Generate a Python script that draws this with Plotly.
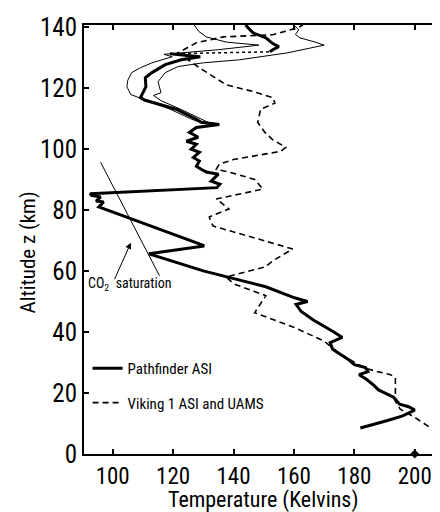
import plotly.graph_objects as go

# ---- Pathfinder ASI (center profile), lower part up to ~131 km ----
pf_t = [182.0, 186.0, 191.0, 196.0, 200.0, 198.0, 195.0, 193.0, 188.0, 186.5, 184.0, 181.6,
        184.5, 183.7, 180.0, 178.0, 175.5, 172.8, 172.0, 176.0, 173.5, 170.0, 166.3, 162.4,
        160.7, 164.5, 160.2, 150.7, 137.6, 130.0, 112.0, 130.3, 128.7, 95.4, 97.0, 94.5,
        96.0, 93.0, 92.5, 134.5, 135.5, 132.6, 135.0, 131.0, 129.3, 127.7, 128.7, 126.7,
        128.7, 126.0, 127.7, 124.4, 128.3, 125.4, 127.7, 135.3, 129.3, 127.7, 121.0, 115.5,
        110.5, 109.2, 111.0, 110.8, 113.0, 117.4, 122.7, 129.0, 119.0]
pf_z = [8.5, 9.5, 11.0, 12.5, 14.4, 15.5, 16.3, 18.6, 21.0, 22.5, 24.5, 26.0,
        27.0, 28.3, 29.3, 31.0, 32.6, 34.3, 36.5, 38.2, 39.8, 41.8, 44.0, 46.7,
        49.0, 50.0, 51.2, 54.8, 58.0, 60.0, 65.6, 68.2, 68.9, 81.0, 82.6, 82.9,
        84.2, 84.8, 85.3, 87.3, 88.4, 89.4, 91.7, 92.4, 93.3, 94.3, 96.0, 97.2,
        98.9, 99.9, 101.5, 102.5, 103.8, 105.4, 107.0, 108.0, 108.7, 109.7, 113.0, 114.6,
        116.0, 116.8, 120.4, 123.3, 125.0, 127.6, 129.2, 130.2, 131.2]

# ---- Pathfinder ASI (center profile), top part ----
pf_top_t = [152.0, 153.0, 155.0, 153.0, 150.7, 146.5, 145.5, 144.0]
pf_top_z = [131.8, 132.5, 133.5, 134.5, 136.4, 138.0, 139.0, 140.6]

# ---- Pathfinder uncertainty envelopes (upper atmosphere) ----
pf_cold_t = [129.5, 126.0, 119.0, 112.0, 106.0, 104.7, 105.0, 106.3, 109.2, 113.0, 119.7,
             117.0, 135.0, 148.4, 137.6, 131.0, 128.5, 127.0]
pf_cold_z = [108.5, 109.8, 113.0, 115.5, 117.8, 120.4, 122.5, 125.0, 126.6, 128.2, 130.2,
             131.0, 132.5, 134.0, 135.0, 136.7, 138.5, 140.6]
pf_warm_t = [132.0, 129.0, 122.5, 116.0, 113.5, 116.0, 115.5, 115.0, 117.4, 121.7, 130.0,
             142.0, 158.0, 170.0, 167.0, 162.0, 160.5, 161.6, 160.0]
pf_warm_z = [108.5, 110.0, 113.0, 115.8, 117.5, 118.4, 120.5, 122.0, 125.0, 127.0, 128.2,
             129.2, 131.5, 134.0, 135.0, 136.4, 137.5, 139.0, 140.6]

# ---- Viking 1 ASI and UAMS ----
vk_t = [207.4, 200.0, 195.2, 193.6, 193.6, 192.0, 187.7, 184.0, 181.0, 175.0, 170.0, 160.3,
        147.0, 149.0, 150.7, 140.0, 137.6, 150.7, 153.0, 159.6, 150.7, 133.3, 132.5, 132.0,
        138.5, 134.3, 149.7, 147.0, 138.5, 134.3, 135.3, 140.0, 155.7, 157.3, 153.0, 150.4,
        148.0, 149.0, 153.7, 153.0, 146.5, 137.6, 133.3, 128.7, 121.7, 127.7, 136.6, 153.0,
        161.3, 163.0]
vk_z = [7.2, 12.0, 14.7, 17.3, 25.0, 26.0, 27.0, 28.0, 29.5, 33.0, 37.0, 41.4,
        46.3, 49.3, 51.9, 55.8, 58.0, 61.4, 63.3, 67.2, 69.8, 74.7, 76.0, 77.7,
        80.3, 83.6, 86.8, 90.0, 92.4, 93.3, 95.0, 96.5, 99.2, 100.5, 103.0, 105.4,
        108.7, 113.0, 115.0, 116.8, 118.8, 121.0, 123.7, 126.6, 131.5, 134.8, 136.7, 137.4,
        139.7, 140.6]

# ---- CO2 saturation curve ----
co2_t = [96.0, 115.5]
co2_z = [95.6, 58.4]

# ---- surface marker ----
sfc_t = [200.0]
sfc_z = [0.0]

x_ticks = [100, 120, 140, 160, 180, 200]
y_ticks = [0, 20, 40, 60, 80, 100, 120, 140]

FONT = "Roboto Condensed, Liberation Sans Narrow, Roboto, sans-serif"

fig = go.Figure()

fig.add_trace(go.Scatter(x=pf_cold_t, y=pf_cold_z, mode="lines",
                         line=dict(color="black", width=1), showlegend=False, hoverinfo="skip"))
fig.add_trace(go.Scatter(x=pf_warm_t, y=pf_warm_z, mode="lines",
                         line=dict(color="black", width=1), showlegend=False, hoverinfo="skip"))
fig.add_trace(go.Scatter(x=pf_t, y=pf_z, mode="lines", name="Pathfinder ASI",
                         legendgroup="pf",
                         line=dict(color="black", width=3)))
fig.add_trace(go.Scatter(x=[pf_t[-1], pf_top_t[0]], y=[pf_z[-1], pf_top_z[0]], mode="lines",
                         line=dict(color="black", width=1.5, dash="dot"),
                         showlegend=False, hoverinfo="skip"))
fig.add_trace(go.Scatter(x=pf_top_t, y=pf_top_z, mode="lines", legendgroup="pf",
                         line=dict(color="black", width=3), showlegend=False))
fig.add_trace(go.Scatter(x=vk_t, y=vk_z, mode="lines", name="Viking 1 ASI and UAMS",
                         legendgroup="vk",
                         line=dict(color="black", width=1.6, dash="6px,4px")))
fig.add_trace(go.Scatter(x=co2_t, y=co2_z, mode="lines",
                         line=dict(color="black", width=1), showlegend=False))
fig.add_trace(go.Scatter(x=sfc_t, y=sfc_z, mode="markers",
                         marker=dict(color="black", size=7, symbol="diamond"),
                         showlegend=False, cliponaxis=False))

fig.add_annotation(x=106.0, y=69.2, ax=100.4, ay=56.8, xref="x", yref="y",
                   axref="x", ayref="y", text="", showarrow=True,
                   arrowhead=2, arrowsize=1.2, arrowwidth=1, arrowcolor="black")
fig.add_annotation(x=105.8, y=55.6, xref="x", yref="y", showarrow=False,
                   text="CO<sub>2</sub>  saturation",
                   font=dict(family=FONT, size=14, color="black"))

fig.add_annotation(x=0.5, y=-0.107, xref="paper", yref="paper", showarrow=False,
                   text="Temperature (Kelvins)", yanchor="middle",
                   font=dict(family=FONT, size=22, color="black"))
fig.add_annotation(x=-0.158, y=0.469, xref="paper", yref="paper", showarrow=False,
                   text="Altitude z (km)", textangle=-90, xanchor="center", yanchor="middle",
                   font=dict(family=FONT, size=21, color="black"))

axis_common = dict(showgrid=False, zeroline=False, showline=True, linecolor="black",
                   linewidth=2, mirror="ticks", ticks="inside", ticklen=5, tickwidth=2,
                   tickcolor="black")

fig.update_layout(
    width=440, height=512,
    margin=dict(l=76, r=5, t=15, b=66),
    paper_bgcolor="white", plot_bgcolor="white",
    xaxis=dict(range=[90.5, 208.7], tickvals=x_ticks,
               tickfont=dict(family=FONT, size=23, color="black"), **axis_common),
    yaxis=dict(range=[0, 140.6], tickvals=y_ticks,
               tickfont=dict(family=FONT, size=25, color="black"), **axis_common),
    showlegend=True,
    legend=dict(x=0.01, y=0.238, xanchor="left", yanchor="top",
                bgcolor="rgba(0,0,0,0)", font=dict(family=FONT, size=15, color="black"),
                traceorder="grouped", tracegroupgap=12, itemwidth=30),
)

fig.write_html("out.html")
